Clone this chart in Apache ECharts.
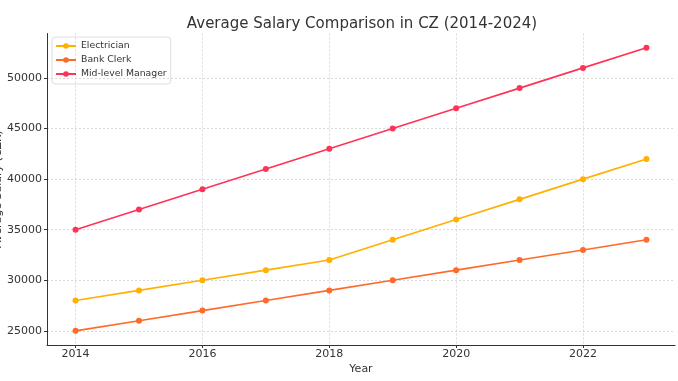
<!DOCTYPE html>
<html><head><meta charset="utf-8">
<script src="https://cdn.jsdelivr.net/npm/echarts@6/dist/echarts.min.js"></script>
<style>html,body{margin:0;padding:0;background:#fff}#c{width:678px;height:381px}</style>
</head><body><div id="c"></div>
<script>
const years = [2014, 2015, 2016, 2017, 2018, 2019, 2020, 2021, 2022, 2023];
const electrician = [28000, 29000, 30000, 31000, 32000, 34000, 36000, 38000, 40000, 42000];
const bankClerk = [25000, 26000, 27000, 28000, 29000, 30000, 31000, 32000, 33000, 34000];
const manager = [35000, 37000, 39000, 41000, 43000, 45000, 47000, 49000, 51000, 53000];
const xTicks = [2014, 2016, 2018, 2020, 2022];
const yTicks = [25000, 30000, 35000, 40000, 45000, 50000];
const seriesNames = ['Electrician', 'Bank Clerk', 'Mid-level Manager'];
const colors = ['#FFB000', '#FF6A2A', '#FF3358'];

const font = 'DejaVu Sans';
const chart = echarts.init(document.getElementById('c'), null, {renderer: 'canvas'});
function mk(name, vals, color) {
  return {
    name, type: 'line', data: years.map((y, i) => [y, vals[i]]),
    symbol: 'circle', symbolSize: 6, color,
    lineStyle: {width: 1.6, color}, itemStyle: {color},
    emphasis: {disabled: true}, animation: false
  };
}
chart.setOption({
  animation: false,
  textStyle: {fontFamily: font},
  title: {
    text: 'Average Salary Comparison in CZ (2014-2024)',
    left: 357, top: 12, textAlign: 'center',
    textStyle: {fontFamily: font, fontSize: 15, fontWeight: 'normal', color: '#333'}
  },
  legend: {
    orient: 'vertical', left: 52, top: 37, padding: [4, 4, 5, 3],
    itemWidth: 20, itemHeight: 7, itemGap: 4,
    borderColor: '#ddd', borderWidth: 1, borderRadius: 3,
    textStyle: {fontFamily: font, fontSize: 9.3, lineHeight: 10, color: '#333'},
    data: seriesNames
  },
  grid: {left: 47, right: 3, top: 33.5, bottom: 36, containLabel: false, outerBoundsMode: 'none'},
  xAxis: {
    type: 'value', min: 2013.55, max: 2023.45,
    name: 'Year', nameLocation: 'middle', nameGap: 19, nameMoveOverlap: false,
    nameTextStyle: {fontFamily: font, fontSize: 11, color: '#333'},
    axisLine: {show: true, onZero: false, lineStyle: {color: '#333', width: 1}},
    axisTick: {show: true, customValues: xTicks, length: 3, inside: false, lineStyle: {color: '#333'}},
    axisLabel: {customValues: xTicks, fontFamily: font, fontSize: 11, color: '#333', margin: 4, formatter: v => String(v)},
    splitLine: {show: true, customValues: xTicks, lineStyle: {color: '#d0d0d0', type: [2, 2], width: 0.8}}
  },
  yAxis: {
    type: 'value', min: 23600, max: 54400,
    name: 'Average Salary (CZK)', nameLocation: 'middle', nameGap: 43, nameRotate: 90, nameMoveOverlap: false,
    nameTextStyle: {fontFamily: font, fontSize: 11, color: '#333'},
    axisLine: {show: true, lineStyle: {color: '#333', width: 1}},
    axisTick: {show: true, customValues: yTicks, length: 3, lineStyle: {color: '#333'}},
    axisLabel: {customValues: yTicks, fontFamily: font, fontSize: 11, color: '#333', margin: 5, formatter: v => String(v)},
    splitLine: {show: true, customValues: yTicks, lineStyle: {color: '#d0d0d0', type: [2, 2], width: 0.8}}
  },
  series: [
    mk(seriesNames[0], electrician, colors[0]),
    mk(seriesNames[1], bankClerk, colors[1]),
    mk(seriesNames[2], manager, colors[2])
  ]
});
</script></body></html>
